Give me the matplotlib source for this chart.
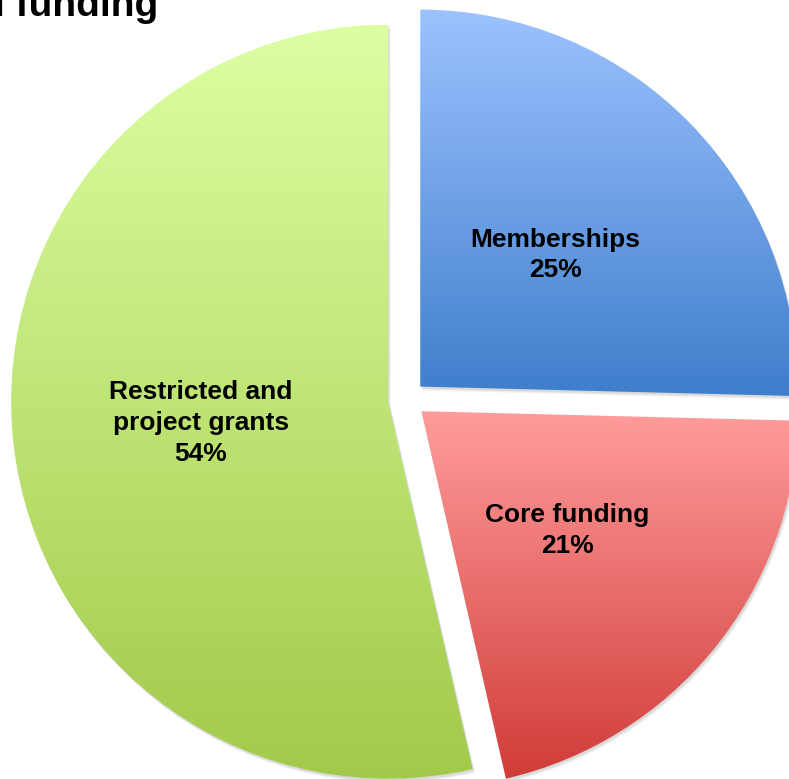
import numpy as np
import matplotlib.pyplot as plt
from matplotlib.patches import Wedge
from matplotlib.colors import LinearSegmentedColormap

plt.rcParams['font.family'] = ['Liberation Sans', 'DejaVu Sans']

# data
categories = ['Memberships', 'Core funding', 'Restricted and\nproject grants']
shares = [25.4, 21.0, 53.6]
pct_labels = ['25%', '21%', '54%']
title = 'Annual funding'

# gradient colours (top, bottom) for each slice
grad_colors = [('#9DC2FF', '#3F7ECC'),
               ('#FF9C9C', '#D03C38'),
               ('#DCFFA2', '#A2CA4A')]

W, H = 789, 779
fig = plt.figure(figsize=(W / 100, H / 100), dpi=100)
ax = fig.add_axes([0, 0, 1, 1])

center = (407, 379.5)
radius = 377
explode = [18.5, 18.5, 19]   # in pixels, pie adds these directly to the centre

labels = [c + '\n' + p for c, p in zip(categories, pct_labels)]
wedges, texts = ax.pie(shares, labels=labels, startangle=90, counterclock=False,
                       center=center, radius=radius, explode=explode,
                       labeldistance=0.5,
                       wedgeprops=dict(facecolor='none', edgecolor='none'),
                       textprops=dict(fontsize=19, fontweight='bold', color='black'))

for t in texts:
    t.set_ha('center')
    t.set_va('center')
    t.set_multialignment('center')
    t.set_linespacing(1.35)
    t.set_zorder(5)

for w, (c_top, c_bot) in zip(wedges, grad_colors):
    # soft shadow under each slice
    for k, a in [(4, 0.06), (3, 0.08), (2, 0.10)]:
        sh = Wedge((w.center[0] + k * 0.6, w.center[1] - k), w.r, w.theta1, w.theta2,
                   facecolor='#555555', edgecolor='none', alpha=a, zorder=1)
        ax.add_patch(sh)
    # vertical gradient clipped to the slice
    x0, y0, x1, y1 = w.get_window_extent().extents
    inv = ax.transData.inverted()
    (dx0, dy0), (dx1, dy1) = inv.transform([(x0, y0), (x1, y1)])
    cmap = LinearSegmentedColormap.from_list('g', [c_bot, c_top])
    grad = np.linspace(0, 1, 256).reshape(-1, 1)
    im = ax.imshow(grad, cmap=cmap, origin='lower', aspect='auto',
                   extent=(dx0, dx1, dy0, dy1), zorder=2, interpolation='bilinear')
    im.set_clip_path(w)

ax.text(158, H - 16, title, ha='right', va='baseline', fontsize=28,
        fontweight='bold', color='black')

ax.set_xlim(0, W)
ax.set_ylim(0, H)
ax.set_aspect('auto')
ax.axis('off')

fig.savefig('out.png', dpi=100)
